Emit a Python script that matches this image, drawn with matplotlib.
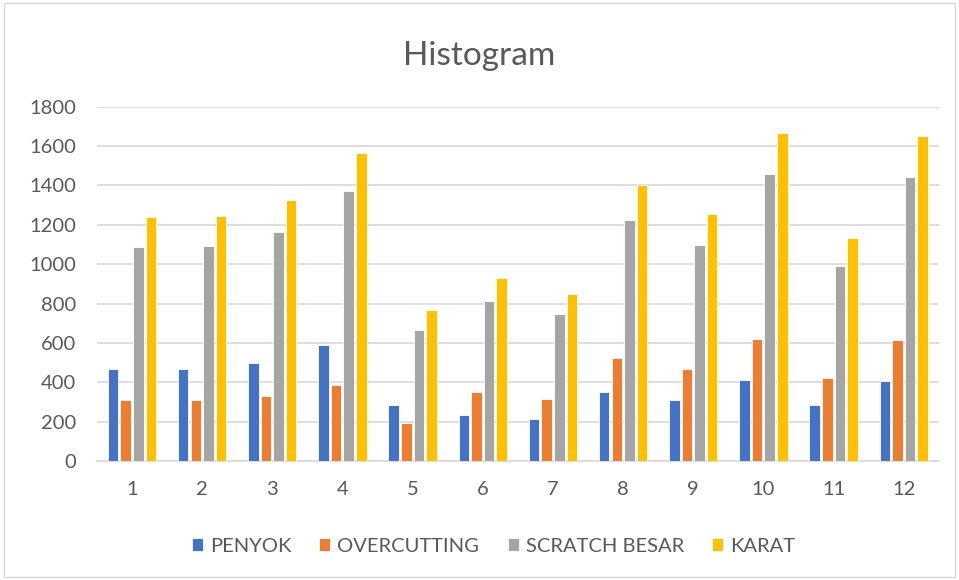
import numpy as np
import matplotlib.pyplot as plt
from matplotlib.patches import Rectangle

plt.rcParams['font.family'] = ['Lato', 'DejaVu Sans']

kategori = ['1', '2', '3', '4', '5', '6', '7', '8', '9', '10', '11', '12']
penyok = [466, 466, 498, 590, 283, 232, 212, 349, 310, 414, 283, 407]
overcutting = [310, 310, 329, 388, 192, 349, 315, 524, 466, 622, 420, 615]
scratch_besar = [1085, 1092, 1164, 1371, 668, 812, 746, 1227, 1097, 1456, 993, 1442]
karat = [1241, 1247, 1325, 1566, 766, 929, 849, 1403, 1254, 1664, 1131, 1651]

seri = [('PENYOK', penyok, '#4472C4'),
        ('OVERCUTTING', overcutting, '#ED7D31'),
        ('SCRATCH BESAR', scratch_besar, '#A5A5A5'),
        ('KARAT', karat, '#FFC000')]

fig = plt.figure(figsize=(9.59, 5.8), dpi=100)
ax = fig.add_axes([0.101, 0.205, 0.878, 0.611])

# bingkai chart
fig.patches.append(Rectangle((0.004, 0.006), 0.992, 0.988, transform=fig.transFigure,
                             fill=False, edgecolor='#d9d9d9', linewidth=1))

x = np.arange(len(kategori))
lebar = 0.15
jarak = 0.18
for i, (nama, nilai, warna) in enumerate(seri):
    ax.bar(x + (i - 1.5) * jarak, nilai, lebar, color=warna, label=nama,
           edgecolor='white', linewidth=0.6, zorder=3)

ax.set_xlim(-0.5, len(kategori) - 0.5)
ax.set_ylim(0, 1800)
ax.set_yticks(range(0, 1801, 200))
ax.set_xticks(x)
ax.set_xticklabels(kategori)
ax.grid(axis='y', color='#d9d9d9', linewidth=1.2, zorder=0)
for s in ['top', 'right', 'left']:
    ax.spines[s].set_visible(False)
ax.spines['bottom'].set_color('#d9d9d9')
ax.spines['bottom'].set_linewidth(1.2)
ax.tick_params(length=0, labelsize=14.5, colors='#595959')
ax.tick_params(axis='x', pad=14)
ax.tick_params(axis='y', pad=15)

fig.text(0.5, 0.903, 'Histogram', ha='center', va='center', fontsize=24, color='#595959')

ax.legend(loc='center', bbox_to_anchor=(0.471, -0.24), ncol=4, frameon=False,
          fontsize=14.5, handlelength=0.55, handleheight=0.55, handletextpad=0.35,
          columnspacing=1.4, labelcolor='#595959')

fig.savefig('out.png', dpi=100)
